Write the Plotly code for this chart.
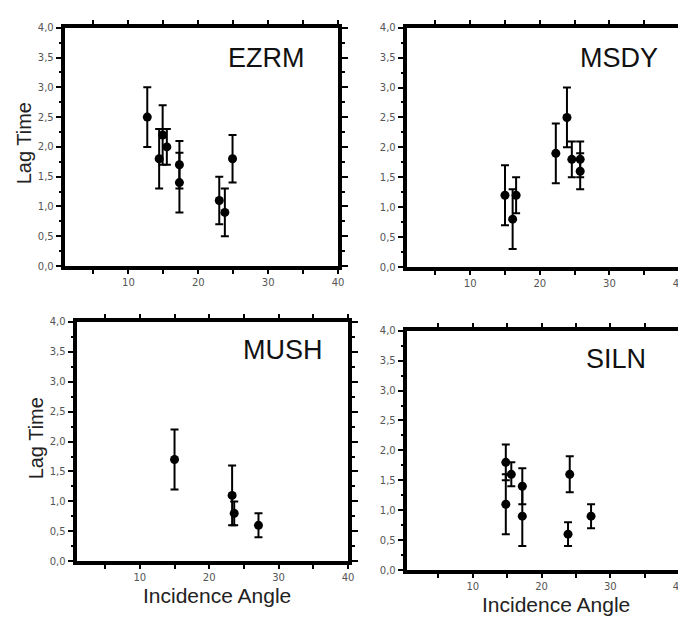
import plotly.graph_objects as go

# ---- data ----
stations = ["EZRM", "MSDY", "MUSH", "SILN"]

ezrm_x = [12.7, 14.4, 14.9, 15.5, 17.3, 17.3, 23.0, 23.8, 24.9]
ezrm_y = [2.5, 1.8, 2.2, 2.0, 1.7, 1.4, 1.1, 0.9, 1.8]
ezrm_err = [0.5, 0.5, 0.5, 0.3, 0.4, 0.5, 0.4, 0.4, 0.4]

msdy_x = [15.0, 16.1, 16.6, 22.3, 23.9, 24.6, 25.8, 25.8]
msdy_y = [1.2, 0.8, 1.2, 1.9, 2.5, 1.8, 1.8, 1.6]
msdy_err = [0.5, 0.5, 0.3, 0.5, 0.5, 0.3, 0.3, 0.3]

mush_x = [15.0, 23.3, 23.6, 27.1]
mush_y = [1.7, 1.1, 0.8, 0.6]
mush_err = [0.5, 0.5, 0.2, 0.2]

siln_x = [14.8, 15.6, 14.8, 17.2, 17.2, 24.1, 23.85, 27.2]
siln_y = [1.8, 1.6, 1.1, 1.4, 0.9, 1.6, 0.6, 0.9]
siln_err = [0.3, 0.2, 0.5, 0.3, 0.5, 0.3, 0.2, 0.2]

x_tickvals = [10, 20, 30, 40]
y_tickvals = [0.0, 0.5, 1.0, 1.5, 2.0, 2.5, 3.0, 3.5, 4.0]

series = [(ezrm_x, ezrm_y, ezrm_err), (msdy_x, msdy_y, msdy_err),
          (mush_x, mush_y, mush_err), (siln_x, siln_y, siln_err)]

W, H = 686, 620


def fx(px):
    return px / W


def fy(py):
    return 1 - py / H


# panel boxes in pixels (left, right, top, bottom)
boxes = [(58, 333, 14, 257), (403, 677, 14, 258), (70, 343, 314, 558), (403, 677, 323, 567)]
xranges = [[1, 40], [1, 40], [1, 40], [0.5, 40]]

fig = go.Figure()
layout = dict(width=W, height=H, margin=dict(l=0, r=0, t=0, b=0),
              paper_bgcolor="white", plot_bgcolor="white", showlegend=False,
              separators=",.", font=dict(family="Liberation Sans, Arial", color="black"))
annotations = []

tickfont = dict(family="DejaVu Sans", size=10, color="#555")

for i, ((xs, ys, es), name, box, xr) in enumerate(zip(series, stations, boxes, xranges)):
    n = "" if i == 0 else str(i + 1)
    l, r, t, b = box
    fig.add_trace(go.Scatter(
        x=xs, y=ys, mode="markers", xaxis="x" + n, yaxis="y" + n,
        marker=dict(size=9, color="black"),
        error_y=dict(type="data", array=es, visible=True, color="black", thickness=2, width=4),
        hoverinfo="skip"))
    axcommon = dict(showline=True, linecolor="black", linewidth=3.5, mirror="ticks",
                    ticks="outside", tickcolor="black", showgrid=False, zeroline=False,
                    tickfont=tickfont)
    layout["xaxis" + n] = dict(axcommon, domain=[fx(l), fx(r)], range=xr,
                               anchor="y" + n, tickvals=x_tickvals, ticklen=4, tickwidth=1.5,
                               minor=dict(dtick=5, tick0=0, ticks="outside", ticklen=4,
                                          tickwidth=1.5, tickcolor="black"))
    layout["yaxis" + n] = dict(axcommon, domain=[fy(b), fy(t)], range=[0, 4],
                               anchor="x" + n, tickvals=y_tickvals, tickformat=".1f",
                               ticklen=6, tickwidth=1.5,
                               minor=dict(dtick=0.25, tick0=0, ticks="outside", ticklen=3,
                                          tickwidth=1.5, tickcolor="black"))

# station labels
label_pos = [(302, 45), (658, 45), (320, 343), (646, 352)]
for name, (px, py) in zip(stations, label_pos):
    annotations.append(dict(text=name, x=fx(px), y=fy(py), xref="paper", yref="paper",
                            xanchor="right", yanchor="middle", showarrow=False,
                            font=dict(size=27, family="Liberation Sans, Arial", color="#111")))

# axis titles
for (px, py) in [(17, 132), (28, 433)]:
    annotations.append(dict(text="Lag Time", x=fx(px), y=fy(py), xref="paper", yref="paper",
                            xanchor="center", yanchor="middle", textangle=-90, showarrow=False,
                            font=dict(size=20, color="#222")))
for (px, py) in [(211, 593), (553, 602)]:
    annotations.append(dict(text="Incidence Angle", x=fx(px), y=fy(py), xref="paper",
                            yref="paper", xanchor="center", yanchor="middle", showarrow=False,
                            font=dict(size=21, color="#222")))

layout["annotations"] = annotations
fig.update_layout(**layout)
fig.write_html("out.html")
